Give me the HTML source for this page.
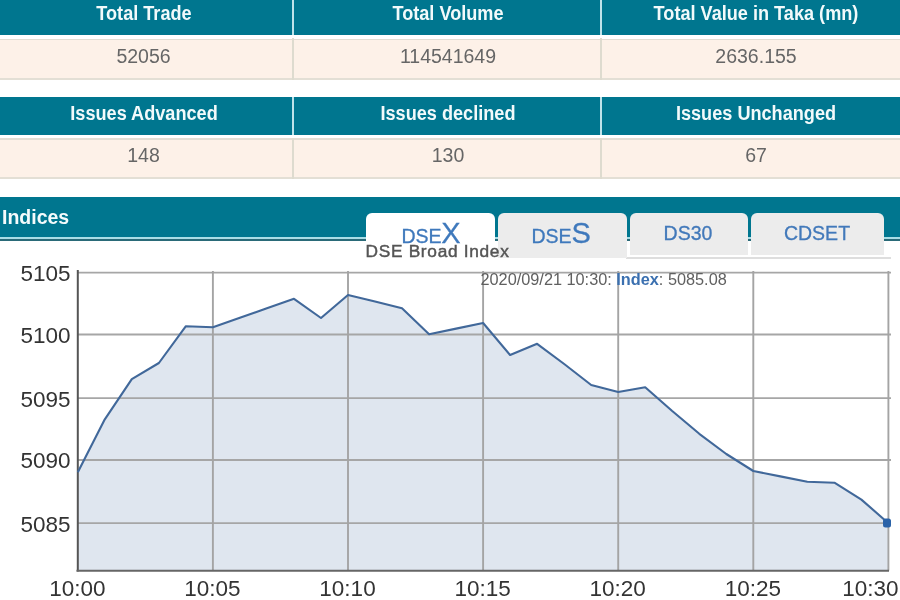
<!DOCTYPE html>
<html><head><meta charset="utf-8"><style>
html,body{margin:0;padding:0;}
body{width:900px;height:600px;overflow:hidden;position:relative;background:#fff;font-family:"Liberation Sans",sans-serif;}
</style></head><body>
<div style="position:absolute;left:0;top:0;width:900px;height:600px;filter:blur(0.45px)">
<div style="position:absolute;left:-10px;top:-12.5px;width:920px;height:47.5px;background:#00768f"></div>
<div style="position:absolute;left:-10px;top:38.5px;width:920px;height:1.5px;background:#e2ddd4"></div>
<div style="position:absolute;left:-10px;top:40.0px;width:920px;height:37.5px;background:#fdf1e8"></div>
<div style="position:absolute;left:-10px;top:77.5px;width:920px;height:2px;background:#e3dfd5"></div>
<div style="position:absolute;left:292px;top:-12.5px;width:2px;height:47.5px;background:#bfe3ea"></div>
<div style="position:absolute;left:292.25px;top:38.0px;width:1.6px;height:41.5px;background:#dedbcf"></div>
<div style="position:absolute;left:600px;top:-12.5px;width:2px;height:47.5px;background:#bfe3ea"></div>
<div style="position:absolute;left:600.25px;top:38.0px;width:1.6px;height:41.5px;background:#dedbcf"></div>
<div style="position:absolute;top:4.10px;font-size:19.6px;line-height:19.6px;white-space:nowrap;color:#f2fafb;font-weight:bold;left:-156.50px;width:600px;text-align:center;transform:scaleX(0.925);">Total Trade</div>
<div style="position:absolute;top:4.10px;font-size:19.6px;line-height:19.6px;white-space:nowrap;color:#f2fafb;font-weight:bold;left:148.00px;width:600px;text-align:center;transform:scaleX(0.925);">Total Volume</div>
<div style="position:absolute;top:4.10px;font-size:19.6px;line-height:19.6px;white-space:nowrap;color:#f2fafb;font-weight:bold;left:456.00px;width:600px;text-align:center;transform:scaleX(0.925);">Total Value in Taka (mn)</div>
<div style="position:absolute;top:46.78px;font-size:19.5px;line-height:19.5px;white-space:nowrap;color:#666;left:-156.50px;width:600px;text-align:center;">52056</div>
<div style="position:absolute;top:46.78px;font-size:19.5px;line-height:19.5px;white-space:nowrap;color:#666;left:148.00px;width:600px;text-align:center;">114541649</div>
<div style="position:absolute;top:46.78px;font-size:19.5px;line-height:19.5px;white-space:nowrap;color:#666;left:456.00px;width:600px;text-align:center;">2636.155</div>
<div style="position:absolute;left:-10px;top:97px;width:920px;height:37.5px;background:#00768f"></div>
<div style="position:absolute;left:-10px;top:138px;width:920px;height:1.5px;background:#e2ddd4"></div>
<div style="position:absolute;left:-10px;top:139.5px;width:920px;height:37.5px;background:#fdf1e8"></div>
<div style="position:absolute;left:-10px;top:177px;width:920px;height:2px;background:#e3dfd5"></div>
<div style="position:absolute;left:292px;top:97px;width:2px;height:37.5px;background:#bfe3ea"></div>
<div style="position:absolute;left:292.25px;top:137.5px;width:1.6px;height:41.5px;background:#dedbcf"></div>
<div style="position:absolute;left:600px;top:97px;width:2px;height:37.5px;background:#bfe3ea"></div>
<div style="position:absolute;left:600.25px;top:137.5px;width:1.6px;height:41.5px;background:#dedbcf"></div>
<div style="position:absolute;top:104.10px;font-size:19.6px;line-height:19.6px;white-space:nowrap;color:#f2fafb;font-weight:bold;left:-156.50px;width:600px;text-align:center;transform:scaleX(0.925);">Issues Advanced</div>
<div style="position:absolute;top:104.10px;font-size:19.6px;line-height:19.6px;white-space:nowrap;color:#f2fafb;font-weight:bold;left:148.00px;width:600px;text-align:center;transform:scaleX(0.925);">Issues declined</div>
<div style="position:absolute;top:104.10px;font-size:19.6px;line-height:19.6px;white-space:nowrap;color:#f2fafb;font-weight:bold;left:456.00px;width:600px;text-align:center;transform:scaleX(0.925);">Issues Unchanged</div>
<div style="position:absolute;top:146.48px;font-size:19.5px;line-height:19.5px;white-space:nowrap;color:#666;left:-156.50px;width:600px;text-align:center;">148</div>
<div style="position:absolute;top:146.48px;font-size:19.5px;line-height:19.5px;white-space:nowrap;color:#666;left:148.00px;width:600px;text-align:center;">130</div>
<div style="position:absolute;top:146.48px;font-size:19.5px;line-height:19.5px;white-space:nowrap;color:#666;left:456.00px;width:600px;text-align:center;">67</div>
<div style="position:absolute;left:-10px;top:197px;width:920px;height:40px;background:#00768f"></div>
<div style="position:absolute;left:-10px;top:237px;width:920px;height:1.5px;background:#a8dde6"></div>
<div style="position:absolute;left:-10px;top:238.5px;width:920px;height:2px;background:#2a6a78"></div>
<div style="position:absolute;top:207.98px;font-size:19.5px;line-height:19.5px;white-space:nowrap;color:#f4fbfc;font-weight:bold;left:2.00px;">Indices</div>
<div style="position:absolute;left:626px;top:257px;width:265px;height:2px;background:#dedede"></div>
<div style="position:absolute;left:365.5px;top:213px;width:129.5px;height:45px;background:#fff;border-radius:6px 6px 0 0"></div>
<div style="position:absolute;left:498px;top:213px;width:128.5px;height:44.69999999999999px;background:#ececec;border-radius:6px 6px 0 0"></div>
<div style="position:absolute;left:630.3px;top:213px;width:117.40000000000009px;height:41.69999999999999px;background:#ececec;border-radius:6px 6px 0 0"></div>
<div style="position:absolute;left:751px;top:213px;width:133px;height:41.69999999999999px;background:#ececec;border-radius:6px 6px 0 0"></div>
<div style="position:absolute;left:365.5px;top:240.5px;width:130px;height:18px;background:#fff"></div>
<div style="position:absolute;top:227.28px;font-size:19.5px;line-height:19.5px;white-space:nowrap;color:#3f79bc;left:401.40px;-webkit-text-stroke:0.3px currentColor;">DSE</div>
<div style="position:absolute;top:219.24px;font-size:29px;line-height:29px;white-space:nowrap;color:#3f79bc;left:441.30px;-webkit-text-stroke:0.3px currentColor;">X</div>
<div style="position:absolute;top:227.28px;font-size:19.5px;line-height:19.5px;white-space:nowrap;color:#3f79bc;left:531.50px;-webkit-text-stroke:0.3px currentColor;">DSE</div>
<div style="position:absolute;top:219.24px;font-size:29px;line-height:29px;white-space:nowrap;color:#3f79bc;left:571.60px;-webkit-text-stroke:0.3px currentColor;">S</div>
<div style="position:absolute;top:224.48px;font-size:19.5px;line-height:19.5px;white-space:nowrap;color:#4279ba;left:388.00px;width:600px;text-align:center;-webkit-text-stroke:0.3px currentColor;">DS30</div>
<div style="position:absolute;top:224.48px;font-size:19.5px;line-height:19.5px;white-space:nowrap;color:#4279ba;left:517.00px;width:600px;text-align:center;-webkit-text-stroke:0.3px currentColor;">CDSET</div>
<div style="position:absolute;top:242.75px;font-size:17.3px;line-height:17.3px;white-space:nowrap;color:#555;left:365.50px;letter-spacing:0.7px;-webkit-text-stroke:0.45px #555;">DSE Broad Index</div>
<svg width="900" height="600" style="position:absolute;left:0;top:0">
<path d="M77.8,570.5 L77.8,472.2 L104.8,419.3 L131.8,379.2 L158.9,363.0 L185.9,326.2 L212.9,327.2 L239.9,317.7 L266.9,308.3 L294.0,298.8 L321.0,318.0 L348.0,295.0 L375.0,301.5 L402.0,308.3 L429.1,334.2 L456.1,328.6 L483.1,323.0 L510.1,355.0 L537.1,343.8 L564.2,364.0 L591.2,385.0 L618.2,392.0 L645.2,387.2 L672.2,411.0 L699.3,433.8 L726.3,454.0 L753.3,471.0 L780.3,476.4 L807.3,481.8 L834.4,482.7 L861.4,499.6 L888.4,523.2 L888.4,570.5 Z" fill="#dfe6ef"/>
<line x1="78" y1="272.6" x2="891" y2="272.6" stroke="#a6a6a6" stroke-width="1.8"/>
<line x1="78" y1="334.5" x2="891" y2="334.5" stroke="#a6a6a6" stroke-width="1.8"/>
<line x1="78" y1="398.1" x2="891" y2="398.1" stroke="#a6a6a6" stroke-width="1.8"/>
<line x1="78" y1="460" x2="891" y2="460" stroke="#a6a6a6" stroke-width="1.8"/>
<line x1="78" y1="523.2" x2="891" y2="523.2" stroke="#a6a6a6" stroke-width="1.8"/>
<line x1="212.9" y1="271" x2="212.9" y2="570.5" stroke="#a4a4a4" stroke-width="1.9"/>
<line x1="348.0" y1="271" x2="348.0" y2="570.5" stroke="#a4a4a4" stroke-width="1.9"/>
<line x1="483.1" y1="271" x2="483.1" y2="570.5" stroke="#a4a4a4" stroke-width="1.9"/>
<line x1="618.2" y1="271" x2="618.2" y2="570.5" stroke="#a4a4a4" stroke-width="1.9"/>
<line x1="753.3" y1="271" x2="753.3" y2="570.5" stroke="#a4a4a4" stroke-width="1.9"/>
<line x1="888.4" y1="271" x2="888.4" y2="570.5" stroke="#a4a4a4" stroke-width="1.9"/>
<line x1="77.8" y1="270" x2="77.8" y2="571.5" stroke="#555" stroke-width="2"/>
<line x1="76.5" y1="570.8" x2="889" y2="570.8" stroke="#666" stroke-width="2"/>
<polyline points="77.8,472.2 104.8,419.3 131.8,379.2 158.9,363.0 185.9,326.2 212.9,327.2 239.9,317.7 266.9,308.3 294.0,298.8 321.0,318.0 348.0,295.0 375.0,301.5 402.0,308.3 429.1,334.2 456.1,328.6 483.1,323.0 510.1,355.0 537.1,343.8 564.2,364.0 591.2,385.0 618.2,392.0 645.2,387.2 672.2,411.0 699.3,433.8 726.3,454.0 753.3,471.0 780.3,476.4 807.3,481.8 834.4,482.7 861.4,499.6 888.4,523.2" fill="none" stroke="#41689a" stroke-width="2.1" stroke-linejoin="round"/>
<rect x="883" y="518.5" width="8" height="9" rx="2.5" fill="#2a62a8"/>
</svg>
<div style="position:absolute;top:270.69px;font-size:16.3px;line-height:16.3px;white-space:nowrap;color:#606060;left:480.50px;">2020/09/21 10:30: <b style="color:#3b70b0">Index</b>: 5085.08</div>
<div style="position:absolute;top:263.04px;font-size:22.5px;line-height:22.5px;white-space:nowrap;color:#333;right:829.50px;text-align:right;">5105</div>
<div style="position:absolute;top:324.94px;font-size:22.5px;line-height:22.5px;white-space:nowrap;color:#333;right:829.50px;text-align:right;">5100</div>
<div style="position:absolute;top:388.54px;font-size:22.5px;line-height:22.5px;white-space:nowrap;color:#333;right:829.50px;text-align:right;">5095</div>
<div style="position:absolute;top:450.44px;font-size:22.5px;line-height:22.5px;white-space:nowrap;color:#333;right:829.50px;text-align:right;">5090</div>
<div style="position:absolute;top:513.64px;font-size:22.5px;line-height:22.5px;white-space:nowrap;color:#333;right:829.50px;text-align:right;">5085</div>
<div style="position:absolute;top:578.44px;font-size:22.5px;line-height:22.5px;white-space:nowrap;color:#333;left:-222.70px;width:600px;text-align:center;">10:00</div>
<div style="position:absolute;top:578.44px;font-size:22.5px;line-height:22.5px;white-space:nowrap;color:#333;left:-87.60px;width:600px;text-align:center;">10:05</div>
<div style="position:absolute;top:578.44px;font-size:22.5px;line-height:22.5px;white-space:nowrap;color:#333;left:47.50px;width:600px;text-align:center;">10:10</div>
<div style="position:absolute;top:578.44px;font-size:22.5px;line-height:22.5px;white-space:nowrap;color:#333;left:182.60px;width:600px;text-align:center;">10:15</div>
<div style="position:absolute;top:578.44px;font-size:22.5px;line-height:22.5px;white-space:nowrap;color:#333;left:317.70px;width:600px;text-align:center;">10:20</div>
<div style="position:absolute;top:578.44px;font-size:22.5px;line-height:22.5px;white-space:nowrap;color:#333;left:452.80px;width:600px;text-align:center;">10:25</div>
<div style="position:absolute;top:578.44px;font-size:22.5px;line-height:22.5px;white-space:nowrap;color:#333;right:1.50px;text-align:right;">10:30</div>
</div>
</body></html>
